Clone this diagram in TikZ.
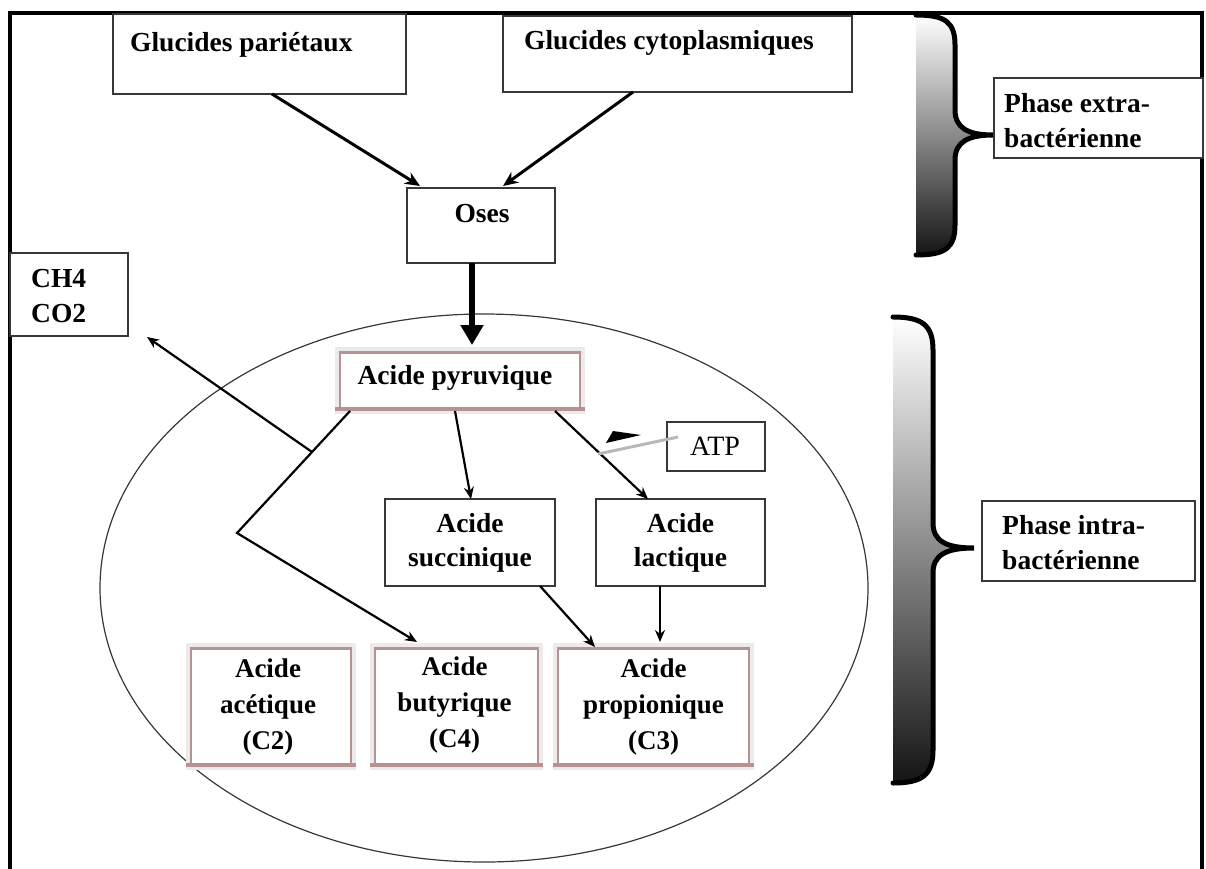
\documentclass[tikz,border=0pt]{standalone}
\usepackage{fontspec}
\setmainfont{Liberation Serif}
\usetikzlibrary{arrows.meta,calc}
\definecolor{rosy}{RGB}{182,146,146}
\definecolor{edge}{RGB}{55,55,55}
\begin{document}
\begin{tikzpicture}[x=1pt,y=-1pt,
  box/.style={draw=edge, line width=1.5pt, fill=white, inner sep=0pt, outer sep=0pt},
  fancy/.style={draw=rosy, line width=1.5pt, fill=white, inner sep=0pt, outer sep=0pt, preaction={draw=black!8, line width=10pt}},
  txt/.style={font=\fontsize{27.5}{34}\selectfont\bfseries, inner sep=0pt, align=center},
  txtb/.style={font=\fontsize{27}{36}\selectfont\bfseries, inner sep=0pt, align=center},
  txtr/.style={font=\fontsize{28}{35}\selectfont, inner sep=0pt, align=left},
  txtp/.style={font=\fontsize{27.5}{35}\selectfont\bfseries, inner sep=0pt, align=left},
  arr/.style={-{Stealth[length=15pt,width=13pt]}, line width=3pt},
  arrs/.style={-{Stealth[length=12pt,width=10pt]}, line width=2.2pt},
  bracefill/.style={top color=white, bottom color=black!92},
  bracedraw/.style={line width=5pt, line cap=round},
]
\useasboundingbox (0,0) rectangle (1206,868);

% ellipse (cell)
\draw[edge, line width=1.2pt] (484,588) ellipse [x radius=384, y radius=274];

% braces
\shade[bracefill] (916,15) .. controls (945,15) and (955,22) .. (955,45) -- (955,110) .. controls (955,128) and (968,135) .. (993,135) .. controls (968,135) and (955,142) .. (955,160) -- (955,225) .. controls (955,248) and (945,255) .. (916,255) -- cycle;
\draw[bracedraw] (916,15) .. controls (945,15) and (955,22) .. (955,45) -- (955,110) .. controls (955,128) and (968,135) .. (993,135) .. controls (968,135) and (955,142) .. (955,160) -- (955,225) .. controls (955,248) and (945,255) .. (916,255);
\shade[bracefill] (893,317) .. controls (922,317) and (933,325) .. (933,350) -- (933,523) .. controls (933,541) and (946,548) .. (974,548) .. controls (946,548) and (933,555) .. (933,573) -- (933,750) .. controls (933,775) and (922,783) .. (893,783) -- cycle;
\draw[bracedraw] (893,317) .. controls (922,317) and (933,325) .. (933,350) -- (933,523) .. controls (933,541) and (946,548) .. (974,548) .. controls (946,548) and (933,555) .. (933,573) -- (933,750) .. controls (933,775) and (922,783) .. (893,783);

% frame
\draw[line width=4pt] (10,875) -- (10,13) -- (1202,13) -- (1202,875);

% boxes
\node[box, minimum width=293pt, minimum height=80pt] (par) at (259.5,54) {};
\node[box, minimum width=349pt, minimum height=76pt] (cyt) at (677.5,54) {};
\node[box, minimum width=148pt, minimum height=75pt] (oses) at (481,225.5) {};
\node[box, minimum width=118pt, minimum height=83pt] (ch4) at (69,294.5) {};
\node[fancy, minimum width=240pt, minimum height=57pt] (pyr) at (460,380.5) {};
\node[box, minimum width=170pt, minimum height=87pt] (suc) at (470,542.5) {};
\node[box, minimum width=169pt, minimum height=87pt] (lac) at (680.5,542.5) {};
\node[box, minimum width=98pt, minimum height=49pt] (atp) at (716,446.5) {};
\node[fancy, minimum width=160pt, minimum height=117pt] (ace) at (271,706.5) {};
\node[fancy, minimum width=163pt, minimum height=117pt] (but) at (456.5,706.5) {};
\node[fancy, minimum width=191pt, minimum height=117pt] (pro) at (653.5,706.5) {};
\node[box, minimum width=209pt, minimum height=80pt] (ext) at (1098.5,118) {};
\node[box, minimum width=213pt, minimum height=80pt] (int) at (1088.5,541) {};

\foreach \n in {pyr,ace,but,pro} {
  \draw[rosy, line width=3pt] (\n.north west) -- (\n.north east);
  \draw[rosy, line width=4pt] ([xshift=-5pt]\n.south west) -- ([xshift=5pt]\n.south east);
}

% texts
\node[txt, anchor=base west] (part) at (130,51) {Glucides pariétaux};
\node[txt, anchor=base west] (cytt) at (524,49) {Glucides cytoplasmiques};
\node[txt, anchor=base] (osest) at (482,222) {Oses};
\node[txt, anchor=base west] (ch4t) at (31,287) {CH4};
\node[txt, anchor=base west] (co2t) at (31,322) {CO2};
\node[txt, anchor=base] (pyrt) at (455,384) {Acide pyruvique};
\node[txt] (suct) at (suc) {Acide\\succinique};
\node[txt] (lact) at (lac) {Acide\\lactique};
\node[txtr, anchor=base] (atpt) at (715,455) {ATP};
\node[txtb] (acet) at ([xshift=-3pt]ace.center) {Acide\\acétique\\(C2)};
\node[txtb] (butt) at ([xshift=-2pt,yshift=2pt]but.center) {Acide\\butyrique\\(C4)};
\node[txtb] (prot) at (pro) {Acide\\propionique\\(C3)};
\node[txtp, anchor=west] (extt) at (1004,121) {Phase extra-\\bactérienne};
\node[txtp, anchor=west] (intt) at (1002,543) {Phase intra-\\bactérienne};

% connectors
\coordinate (corner) at (237,533);
\coordinate (jn) at (312,452);
\coordinate (atpend) at (598,454);
\draw[arr] ([xshift=159pt]par.south west) -- ([xshift=13pt,yshift=2pt]oses.north west);
\draw[arr] ([xshift=130pt]cyt.south west) -- ([xshift=96pt,yshift=2pt]oses.north west);
\draw[line width=5.5pt, -{Triangle[length=20pt,width=22pt]}] ([xshift=-9pt]oses.south) -- ([xshift=12pt,yshift=7pt]pyr.north);
\draw[arrs] ([xshift=115pt,yshift=-2pt]pyr.south west) -- ([xshift=86pt]suc.north west);
\draw[arrs] ([xshift=215pt,yshift=-2pt]pyr.south west) -- ([xshift=52pt]lac.north west);
\draw[arrs] ([xshift=10pt,yshift=-2pt]pyr.south west) -- (corner) -- ([xshift=42pt,yshift=6pt]but.north west);
\draw[arrs] (jn) -- ([xshift=19pt,yshift=-1pt]ch4.south east);
\draw[arrs] ([xshift=155pt]suc.south west) -- ([xshift=37pt,yshift=1pt]pro.north west);
\draw[arrs] ([xshift=64pt]lac.south west) -- ([xshift=102pt,yshift=6pt]pro.north west);
\draw[black!28, line width=3pt] ([xshift=11pt,yshift=9.5pt]atp.west) -- (atpend);
\fill[black] (606,443) -- (613,431) -- (641,435) -- cycle;
\end{tikzpicture}
\end{document}
